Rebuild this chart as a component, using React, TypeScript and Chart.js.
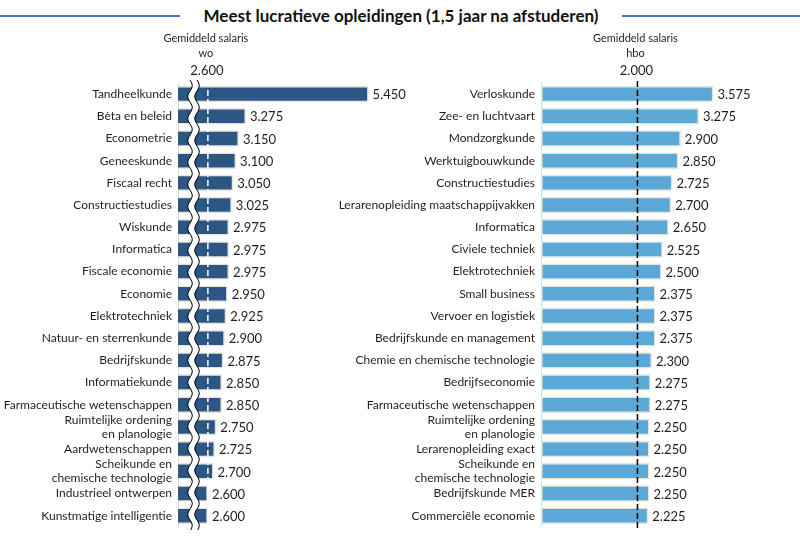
import React, { useEffect, useRef } from "react";
import { Chart, registerables } from "chart.js";

Chart.register(...registerables);

const woCategories: (string | string[])[] = [
  "Tandheelkunde",
  "Bèta en beleid",
  "Econometrie",
  "Geneeskunde",
  "Fiscaal recht",
  "Constructiestudies",
  "Wiskunde",
  "Informatica",
  "Fiscale economie",
  "Economie",
  "Elektrotechniek",
  "Natuur- en sterrenkunde",
  "Bedrijfskunde",
  "Informatiekunde",
  "Farmaceutische wetenschappen",
  ["Ruimtelijke ordening", "en planologie"],
  "Aardwetenschappen",
  ["Scheikunde en", "chemische technologie"],
  "Industrieel ontwerpen",
  "Kunstmatige intelligentie",
];
const woValues = [
  5450, 3275, 3150, 3100, 3050, 3025, 2975, 2975, 2975, 2950, 2925, 2900, 2875,
  2850, 2850, 2750, 2725, 2700, 2600, 2600,
];
const woAverage = 2600;

const hboCategories: (string | string[])[] = [
  "Verloskunde",
  "Zee- en luchtvaart",
  "Mondzorgkunde",
  "Werktuigbouwkunde",
  "Constructiestudies",
  "Lerarenopleiding maatschappijvakken",
  "Informatica",
  "Civiele techniek",
  "Elektrotechniek",
  "Small business",
  "Vervoer en logistiek",
  "Bedrijfskunde en management",
  "Chemie en chemische technologie",
  "Bedrijfseconomie",
  "Farmaceutische wetenschappen",
  ["Ruimtelijke ordening", "en planologie"],
  "Lerarenopleiding exact",
  ["Scheikunde en", "chemische technologie"],
  "Bedrijfskunde MER",
  "Commerciële economie",
];
const hboValues = [
  3575, 3275, 2900, 2850, 2725, 2700, 2650, 2525, 2500, 2375, 2375, 2375, 2300,
  2275, 2275, 2250, 2250, 2250, 2250, 2225,
];
const hboAverage = 2000;

const FONT = "Lato, 'Open Sans', sans-serif";
const TEXT = "#1f1f1f";

function fmt(v: number): string {
  const s = Math.round(v).toString();
  return s.replace(/\B(?=(\d{3})+(?!\d))/g, ".");
}

function makePlugin(opts: {
  avg: number;
  level: string;
  lineColor: string;
  withBreak: boolean;
}) {
  return {
    id: "custom-" + opts.level,
    afterDraw(chart: any) {
      const ctx = chart.ctx as CanvasRenderingContext2D;
      const area = chart.chartArea;
      const xs = chart.scales.x;
      const meta = chart.getDatasetMeta(0);
      const data = chart.data.datasets[0].data as number[];
      ctx.save();
      // average line
      const ax = xs.getPixelForValue(opts.avg);
      ctx.strokeStyle = opts.lineColor;
      ctx.lineWidth = 1.5;
      ctx.setLineDash([6, 3]);
      ctx.beginPath();
      ctx.moveTo(ax, area.top - 2);
      ctx.lineTo(ax, area.bottom + 3);
      ctx.stroke();
      ctx.setLineDash([]);

      // break symbol
      if (opts.withBreak) {
        const bx = area.left + 15.5;
        const top = area.top - 3;
        const bottom = area.bottom + 4;
        const period = 22;
        const amp = 2.2;
        const wave = (y: number) => amp * Math.sin((2 * Math.PI * (y - top)) / period);
        ctx.beginPath();
        for (let y = top; y <= bottom; y += 1) {
          const x = bx - 3.5 + wave(y);
          if (y === top) ctx.moveTo(x, y);
          else ctx.lineTo(x, y);
        }
        for (let y = bottom; y >= top; y -= 1) {
          ctx.lineTo(bx + 3.5 + wave(y), y);
        }
        ctx.closePath();
        ctx.fillStyle = "#ffffff";
        ctx.fill();
        ctx.strokeStyle = "#000000";
        ctx.lineWidth = 1;
        for (const off of [-3.5, 3.5]) {
          ctx.beginPath();
          for (let y = top; y <= bottom; y += 1) {
            const x = bx + off + wave(y);
            if (y === top) ctx.moveTo(x, y);
            else ctx.lineTo(x, y);
          }
          ctx.stroke();
        }
      }

      // data labels
      ctx.fillStyle = TEXT;
      ctx.font = `13px ${FONT}`;
      ctx.textAlign = "left";
      ctx.textBaseline = "middle";
      meta.data.forEach((bar: any, i: number) => {
        ctx.fillText(fmt(data[i]), bar.x + 4, bar.y + 1);
      });

      // annotation
      ctx.textAlign = "center";
      ctx.textBaseline = "middle";
      ctx.font = `11px ${FONT}`;
      ctx.fillText("Gemiddeld salaris", ax - 2, 38);
      ctx.fillText(opts.level, ax - 2, 53);
      ctx.font = `13px ${FONT}`;
      ctx.fillText(fmt(opts.avg), ax - 1, 71);
      ctx.restore();
    },
  };
}

function Panel(props: {
  left: number;
  width: number;
  axisWidth: number;
  padRight: number;
  categories: (string | string[])[];
  values: number[];
  min: number;
  max: number;
  color: string;
  avg: number;
  level: string;
  lineColor: string;
  withBreak: boolean;
}) {
  const ref = useRef<HTMLCanvasElement>(null);
  useEffect(() => {
    if (!ref.current) return;
    const chart = new Chart(ref.current, {
      type: "bar",
      data: {
        labels: props.categories,
        datasets: [
          {
            data: props.values,
            backgroundColor: props.color,
            borderColor: "#e4e4dc",
            borderWidth: 1.5,
            borderSkipped: false,
            barPercentage: 0.74,
            categoryPercentage: 1,
          },
        ],
      },
      options: {
        indexAxis: "y",
        responsive: false,
        animation: false,
        devicePixelRatio: 1,
        layout: { padding: { top: 83, bottom: 12, right: props.padRight, left: 0 } },
        plugins: {
          legend: { display: false },
          tooltip: { enabled: false },
          title: { display: false },
        },
        scales: {
          x: {
            display: false,
            min: props.min,
            max: props.max,
          },
          y: {
            grid: { display: false, drawTicks: false },
            border: { display: true, color: "#d9d9d9", width: 1 },
            ticks: {
              color: TEXT,
              padding: 6,
              font: { family: FONT, size: 12 },
              autoSkip: false,
            },
            afterFit: (scale: any) => {
              scale.width = props.axisWidth;
            },
          },
        },
      },
      plugins: [
        makePlugin({
          avg: props.avg,
          level: props.level,
          lineColor: props.lineColor,
          withBreak: props.withBreak,
        }),
      ],
    } as any);
    return () => chart.destroy();
  }, []);
  return (
    <canvas
      ref={ref}
      width={props.width}
      height={540}
      style={{
        position: "absolute",
        left: props.left,
        top: 0,
        width: props.width,
        height: 540,
      }}
    />
  );
}

export default function App() {
  return (
    <div
      style={{
        position: "absolute",
        left: 0,
        top: 0,
        width: 800,
        height: 540,
        background: "#ffffff",
        overflow: "hidden",
      }}
    >
      <div
        style={{
          position: "absolute",
          left: 0,
          top: 15,
          width: 180,
          height: 2,
          background: "#4472c4",
        }}
      />
      <div
        style={{
          position: "absolute",
          left: 622,
          top: 15,
          width: 178,
          height: 2,
          background: "#4472c4",
        }}
      />
      <div
        style={{
          position: "absolute",
          left: 180,
          width: 442,
          top: 5,
          textAlign: "center",
          fontFamily: FONT,
          fontWeight: 700,
          fontSize: 17,
          color: "#111",
          whiteSpace: "nowrap",
        }}
      >
        Meest lucratieve opleidingen (1,5 jaar na afstuderen)
      </div>
      <Panel
        left={0}
        width={430}
        axisWidth={178}
        padRight={36}
        categories={woCategories}
        values={woValues}
        min={2070}
        max={5900}
        color="#2c5784"
        avg={woAverage}
        level="wo"
        lineColor="#ffffff"
        withBreak={true}
      />
      <Panel
        left={250}
        width={550}
        axisWidth={291}
        padRight={42}
        categories={hboCategories}
        values={hboValues}
        min={0}
        max={4500}
        color="#5ba7d6"
        avg={hboAverage}
        level="hbo"
        lineColor="#000000"
        withBreak={false}
      />
    </div>
  );
}
